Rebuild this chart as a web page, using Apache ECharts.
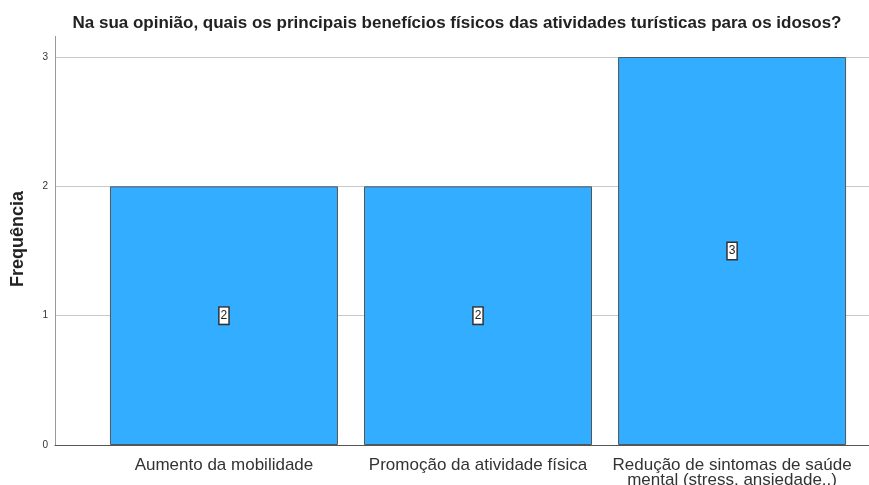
<!DOCTYPE html>
<html>
<head>
<meta charset="utf-8">
<script src="https://cdn.jsdelivr.net/npm/echarts@6/dist/echarts.min.js"></script>
<style>
  html, body { margin: 0; padding: 0; background: #fff; }
  #chart { width: 869px; height: 485px; }
</style>
</head>
<body>
<div id="chart"></div>
<script>
const categories = [
  'Aumento da mobilidade',
  'Promoção da atividade física',
  'Redução de sintomas de saúde\nmental (stress, ansiedade..)'
]
const frequencies = [2, 2, 3]
const yTicks = [0, 1, 2, 3]

const chart = echarts.init(document.getElementById('chart'))

const positions = categories.map((_, i) => i)
const font = 'Liberation Sans, Arial, sans-serif'

const option = {
  animation: false,
  title: {
    text: 'Na sua opinião, quais os principais benefícios físicos das atividades turísticas para os idosos?',
    left: 452,
    top: 10,
    textAlign: 'center',
    textStyle: {
      fontFamily: font,
      fontSize: 17,
      fontWeight: 'bold',
      color: '#222',
    },
  },
  grid: {
    left: 55,
    right: 0,
    top: 57,
    bottom: 40,
    outerBoundsMode: 'none',
    containLabel: false,
  },
  xAxis: {
    type: 'value',
    min: -0.665,
    max: 2.539,
    axisLine: { show: true, onZero: false, lineStyle: { color: '#555', width: 1 } },
    axisTick: { show: false },
    splitLine: { show: false },
    axisLabel: {
      customValues: positions,
      formatter: (v) => categories[Math.round(v)],
      color: '#333',
      fontSize: 17,
      lineHeight: 15,
      margin: 13,
      fontFamily: font,
    },
  },
  yAxis: {
    type: 'value',
    min: 0,
    max: yTicks[yTicks.length - 1],
    interval: 1,
    name: 'Frequência',
    nameLocation: 'middle',
    nameGap: 28,
    nameTextStyle: {
      fontFamily: font,
      fontSize: 18,
      fontWeight: 'bold',
      color: '#222',
      padding: [0, 0, 0, 24],
    },
    axisLine: { show: true, onZero: false, lineStyle: { color: '#999', width: 1 } },
    axisTick: { show: false },
    axisLabel: {
      color: '#333',
      fontSize: 10,
      margin: 7,
      fontFamily: font,
    },
    splitLine: { show: true, lineStyle: { color: '#c8c8c8', width: 1 } },
  },
  graphic: [
    {
      type: 'line',
      shape: { x1: 55.5, y1: 36, x2: 55.5, y2: 57 },
      style: { stroke: '#999', lineWidth: 1 },
    },
  ],
  series: [
    {
      type: 'bar',
      data: positions.map((p, i) => [p, frequencies[i]]),
      barWidth: 228,
      itemStyle: {
        color: '#33adff',
        borderColor: '#555',
        borderWidth: 1,
      },
      label: {
        show: true,
        position: 'inside',
        color: '#222',
        fontSize: 12,
        fontFamily: font,
        backgroundColor: '#fff',
        borderColor: '#333',
        borderWidth: 1.5,
        padding: [2, 1, 2, 1],
      },
    },
  ],
}

chart.setOption(option)
</script>
</body>
</html>
